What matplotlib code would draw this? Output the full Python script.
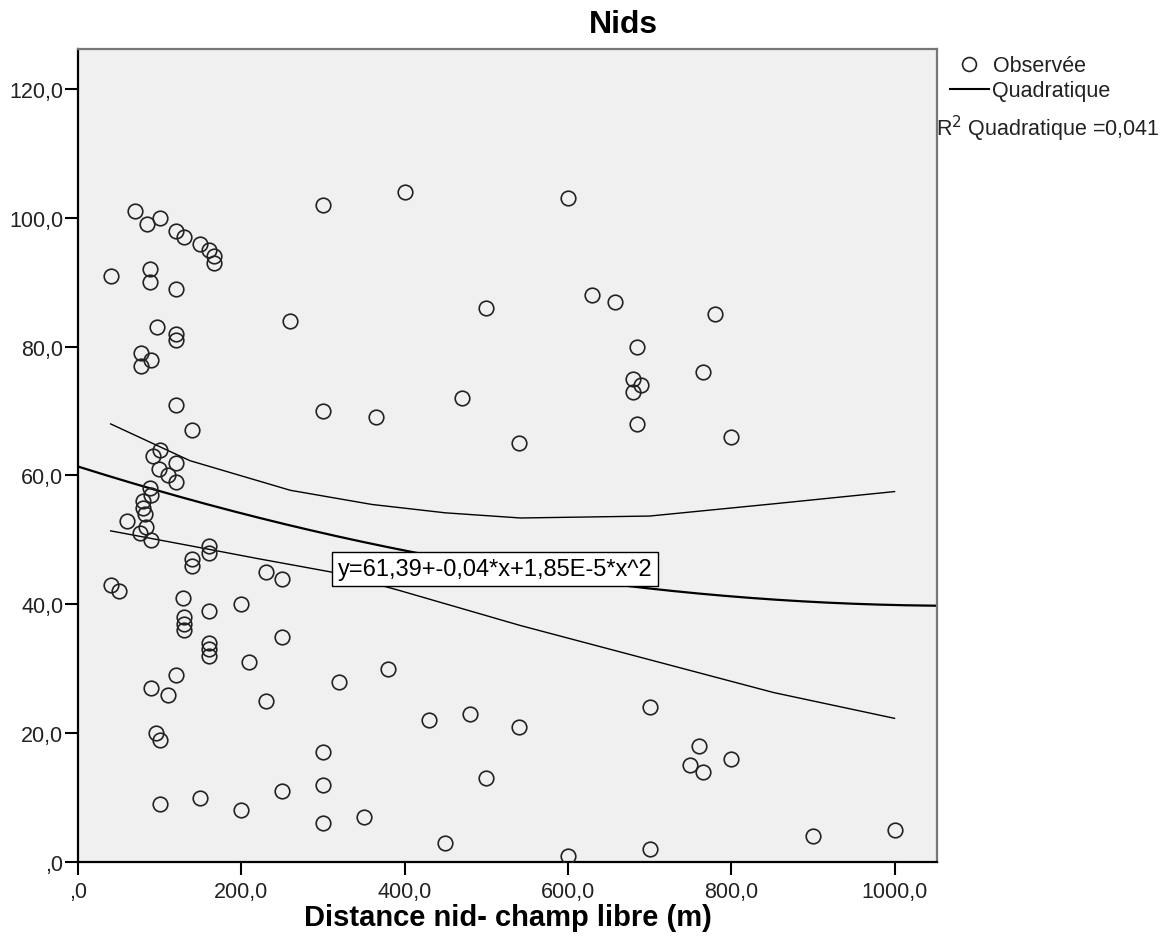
import numpy as np
import matplotlib
matplotlib.use("Agg")
import matplotlib.pyplot as plt
from matplotlib.lines import Line2D
from matplotlib.ticker import FuncFormatter

plt.rcParams['font.family'] = ['Liberation Sans', 'DejaVu Sans']

# observed points: distance nid - champ libre (m) / Nids
distance = [70, 85, 100, 120, 130, 150, 160, 167, 167, 40, 88, 88, 120, 300, 260, 400,
            97, 120, 120, 77, 90, 77, 120, 300, 365, 140, 100, 92, 120, 99, 110, 120,
            88, 90, 80, 80, 82, 60, 83, 76, 90, 160, 160, 140, 140, 230, 250, 40, 50,
            128, 200, 160, 130, 130, 130, 250, 160, 160, 160, 210, 380, 120, 320, 90,
            110, 230, 95, 100, 300, 300, 250, 150, 100, 200, 350, 300,
            600, 500, 630, 658, 780, 684, 765, 680, 690, 680, 470, 684, 800, 540,
            430, 480, 540, 700, 760, 750, 765, 800, 500, 450, 600, 700, 900, 1000]
nids = [101, 99, 100, 98, 97, 96, 95, 94, 93, 91, 92, 90, 89, 102, 84, 104,
        83, 82, 81, 79, 78, 77, 71, 70, 69, 67, 64, 63, 62, 61, 60, 59,
        58, 57, 56, 55, 54, 53, 52, 51, 50, 49, 48, 47, 46, 45, 44, 43, 42,
        41, 40, 39, 38, 37, 36, 35, 34, 33, 32, 31, 30, 29, 28, 27,
        26, 25, 20, 19, 17, 12, 11, 10, 9, 8, 7, 6,
        103, 86, 88, 87, 85, 80, 76, 75, 74, 73, 72, 68, 66, 65,
        22, 23, 21, 24, 18, 15, 14, 16, 13, 3, 1, 2, 4, 5]

# quadratic fit shown on the chart
coef = [61.39, -0.04, 1.85e-5]
r2_text = "0,041"

# confidence bounds as drawn
ci_up_x = [40, 137, 260, 360, 450, 542, 700, 852, 1000]
ci_up_y = [68.0, 62.3, 57.7, 55.5, 54.2, 53.4, 53.7, 55.6, 57.5]
ci_lo_x = [40, 137, 220, 315, 395, 542, 700, 852, 1000]
ci_lo_y = [51.4, 49.1, 47.1, 44.9, 42.1, 36.7, 31.4, 26.3, 22.3]

fig = plt.figure(figsize=(11.67, 9.53), dpi=100)
ax = fig.add_axes([78 / 1167, 1 - 863 / 953, (937 - 78) / 1167, (863 - 50) / 953])
ax.set_facecolor('#f0f0f0')

ax.plot(distance, nids, 'o', mfc='none', mec='#222222', ms=10.5, mew=1.2, zorder=3)

# fit line over the whole axis
xs = np.linspace(0, 1052, 300)
ax.plot(xs, coef[0] + coef[1] * xs + coef[2] * xs ** 2, color='black', lw=1.6, zorder=2)

ax.plot(ci_up_x, ci_up_y, color='black', lw=1.0, zorder=2)
ax.plot(ci_lo_x, ci_lo_y, color='black', lw=1.0, zorder=2)

ax.set_xlim(0, 1052)
ax.set_ylim(0, 126.2)
ax.set_xticks([0, 200, 400, 600, 800, 1000])
ax.set_yticks([0, 20, 40, 60, 80, 100, 120])

def fmt(v, pos):
    s = f"{v:.1f}".replace('.', ',')
    return ',0' if v == 0 else s

ax.xaxis.set_major_formatter(FuncFormatter(fmt))
ax.yaxis.set_major_formatter(FuncFormatter(fmt))
ax.tick_params(axis='both', direction='out', length=9.5, width=1.5, labelsize=15.5,
               colors='black', labelcolor='#222222')
ax.tick_params(axis='x', pad=4)
ax.tick_params(axis='y', pad=1)

for side in ['left', 'bottom']:
    ax.spines[side].set_linewidth(1.6)
    ax.spines[side].set_color('black')
for side in ['top', 'right']:
    ax.spines[side].set_linewidth(1.6)
    ax.spines[side].set_color('#777777')

ax.text(318, 45.5, "y=61,39+-0,04*x+1,85E-5*x^2", fontsize=17, va='center', ha='left',
        bbox=dict(boxstyle='square,pad=0.25', fc='white', ec='black', lw=1.0), zorder=4)

fig.text(623 / 1167, 1 - 25 / 953, "Nids", fontsize=23, fontweight='bold', ha='center', va='center')
fig.text(508 / 1167, 1 - 918 / 953, "Distance nid- champ libre (m)", fontsize=21,
         fontweight='bold', ha='center', va='center')

# legend
fig.add_artist(Line2D([969 / 1167], [1 - 65 / 953], marker='o', mfc='none', mec='#222222',
                      ms=10, mew=1.2, transform=fig.transFigure))
fig.text(993 / 1167, 1 - 67 / 953, "Observée", fontsize=15.5, va='center', color='#222222')
fig.add_artist(Line2D([950 / 1167, 989 / 1167], [1 - 90 / 953, 1 - 90 / 953], color='black',
                      lw=1.5, transform=fig.transFigure))
fig.text(992 / 1167, 1 - 92 / 953, "Quadratique", fontsize=15.5, va='center', color='#222222')
fig.text(936 / 1167, 1 - 129 / 953, "R$^2$ Quadratique =" + r2_text, fontsize=15.5, va='center',
         color='#222222')

plt.savefig("out.png", dpi=100)
